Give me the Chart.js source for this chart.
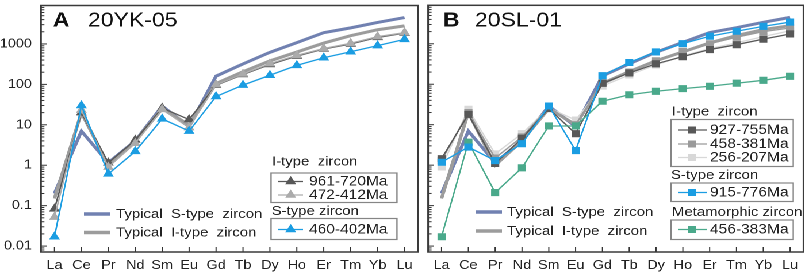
<!DOCTYPE html>
<html>
<head>
<meta charset="utf-8">
<script src="https://cdn.jsdelivr.net/npm/chart.js@4/dist/chart.umd.min.js"></script>
<style>
html,body{margin:0;padding:0;background:#fff;overflow:hidden;}
#stage{position:relative;width:704px;height:276px;transform:scaleX(1.15);transform-origin:0 0;}
#c1{position:absolute;left:0;top:0;}
#c2{position:absolute;left:367px;top:0;}
</style>
</head>
<body>
<div id="stage">
  <canvas id="c1" width="369" height="276"></canvas>
  <canvas id="c2" width="337" height="276"></canvas>
</div>
<script>
// ---------- data ----------
const elements = ['La','Ce','Pr','Nd','Sm','Eu','Gd','Tb','Dy','Ho','Er','Tm','Yb','Lu'];
const yTickValues = [0.01, 0.1, 1, 10, 100, 1000];

// reference curves (same in both panels)
const typicalS = [0.2, 7, 1.15, 4, 29, 9, 160, 320, 620, 1080, 1900, 2500, 3400, 4500];
const typicalI = [0.15, 20, 1.0, 4, 25, 10, 105, 205, 380, 630, 1050, 1600, 2250, 2800];

// panel A: 20YK-05
const yk961 = [0.083, 20, 1.15, 4.2, 26, 13.5, 95, 175, 310, 500, 750, 1000, 1450, 1850];
const yk472 = [0.052, 23, 0.9, 3.5, 24, 8.5, 98, 180, 325, 520, 770, 1040, 1520, 1900];
const yk460 = [0.017, 30, 0.61, 2.2, 14, 7, 50, 96, 168, 295, 455, 640, 910, 1300];

// panel B: 20SL-01
const sl927 = [1.45, 18, 1.1, 4.6, 25, 6, 105, 190, 320, 480, 720, 950, 1300, 1750];
const sl458 = [1.3, 20, 1.5, 5, 27, 10, 110, 200, 380, 650, 1000, 1450, 2000, 2450];
const sl256 = [0.9, 24, 1.9, 6, 26, 13, 90, 170, 300, 500, 760, 1050, 1500, 2100];
const sl915 = [1.18, 2.8, 1.3, 3.4, 29, 2.3, 163, 345, 630, 1010, 1540, 2040, 2700, 3440];
const sl456 = [0.017, 3.7, 0.21, 0.86, 9.3, 9.3, 38, 55, 67, 78, 89, 106, 125, 157];

// ---------- styling ----------
const FONT = '"Liberation Sans", Arial, Helvetica, sans-serif';
const COL = {
  S: '#7181b1', I: '#9c9c9c',
  dark: '#585858', light: '#ababab',
  blue: '#1b9de2', med: '#9a9a9a', pale: '#d8d8d8', teal: '#4aa98b'
};
const Y_MIN = 0.00714, Y_MAX = 8935;

Chart.defaults.font.family = FONT;
Chart.defaults.color = '#222';

function series(label, data, color, style, r) {
  return {
    label, data, borderColor: color, backgroundColor: color,
    borderWidth: 1.3, tension: 0,
    pointStyle: style, pointRadius: r, pointHoverRadius: r,
    pointBackgroundColor: color, pointBorderColor: color, pointBorderWidth: 1
  };
}
function typical(label, data, color) {
  return { label, data, borderColor: color, backgroundColor: color, borderWidth: 3, pointRadius: 0, tension: 0 };
}

function line(ctx, x1, y1, x2, y2) { ctx.beginPath(); ctx.moveTo(x1, y1); ctx.lineTo(x2, y2); ctx.stroke(); }

function marker(ctx, style, x, y, r, color) {
  ctx.fillStyle = color; ctx.strokeStyle = color; ctx.lineWidth = 1;
  ctx.beginPath();
  if (style === 'triangle') {
    ctx.moveTo(x, y - r);
    ctx.lineTo(x + 0.866 * r, y + 0.5 * r);
    ctx.lineTo(x - 0.866 * r, y + 0.5 * r);
    ctx.closePath();
  } else {
    const s = Math.SQRT1_2 * r;
    ctx.rect(x - s, y - s, 2 * s, 2 * s);
  }
  ctx.fill(); ctx.stroke();
}

function decoPlugin(cfg) {
  return {
    id: 'deco',
    afterDraw(chart) {
      const ctx = chart.ctx, a = chart.chartArea, ys = chart.scales.y, xs = chart.scales.x;
      ctx.save();
      // inward tick marks on the log axis
      ctx.strokeStyle = '#333'; ctx.lineWidth = 1;
      for (let e = -3; e <= 4; e++) {
        for (let m = 1; m <= 9; m++) {
          const v = m * Math.pow(10, e);
          if (v < ys.min || v > ys.max) continue;
          const py = ys.getPixelForValue(v);
          line(ctx, a.left, py, a.left + (m === 1 ? 5.2 : 3), py);
        }
      }
      // inward tick marks on category axis
      xs.ticks.forEach((t, i) => {
        const px = xs.getPixelForTick(i);
        line(ctx, px, a.bottom, px, a.bottom - 5);
      });
      // frame
      ctx.strokeStyle = '#3a3a3a'; ctx.lineWidth = 1.5;
      ctx.strokeRect(a.left, a.top, a.right - a.left, a.bottom - a.top);

      // panel title
      ctx.fillStyle = '#111'; ctx.textAlign = 'left'; ctx.textBaseline = 'alphabetic';
      ctx.font = 'bold 20px ' + FONT;
      ctx.fillText(cfg.title.letter, cfg.title.lx, 26.5);
      ctx.font = '20px ' + FONT;
      ctx.fillText(cfg.title.text, cfg.title.tx, 26.5);

      // legends
      ctx.textBaseline = 'middle';
      for (const t of cfg.typical) {
        ctx.strokeStyle = t.color; ctx.lineWidth = 3.5;
        line(ctx, t.x1, t.y, t.x2, t.y);
        ctx.fillStyle = '#222';
        ctx.font = '13px ' + FONT;
        ctx.fillText(t.text, t.tx, t.y + 0.5);
      }
      for (const g of cfg.groups) {
        ctx.fillStyle = '#222';
        ctx.font = '13px ' + FONT;
        ctx.fillText(g.header, g.hx, g.hy);
        ctx.strokeStyle = '#858585'; ctx.lineWidth = 1.2;
        ctx.strokeRect(g.box[0], g.box[1], g.box[2] - g.box[0], g.box[3] - g.box[1]);
        for (const e of g.entries) {
          ctx.strokeStyle = e.color; ctx.lineWidth = 1.3;
          line(ctx, g.l1, e.y, g.l2, e.y);
          marker(ctx, e.style, g.mx, e.y, e.style === 'triangle' ? 4.5 : 4.3, e.color);
          ctx.fillStyle = '#222';
          ctx.font = '13.5px ' + FONT;
          ctx.fillText(e.label, g.tx, e.y + 0.5);
        }
      }
      ctx.restore();
    }
  };
}

function makeOptions(isLeft, yWidth, padRight) {
  return {
    responsive: false, animation: false, devicePixelRatio: 2,
    layout: { padding: { top: 2, right: padRight, left: 0, bottom: 0 } },
    plugins: { legend: { display: false }, tooltip: { enabled: false } },
    scales: {
      x: {
        type: 'category', offset: true,
        grid: { display: false, drawTicks: false }, border: { display: false },
        ticks: { display: true, padding: 6, autoSkip: false, maxRotation: 0, font: { size: 12.5 }, color: '#222' },
        afterFit: s => { s.height = 24; s.paddingLeft = 0; s.paddingRight = 0; }
      },
      y: {
        type: 'logarithmic', min: Y_MIN, max: Y_MAX, bounds: 'data',
        grid: { display: false, drawTicks: false }, border: { display: false },
        afterBuildTicks: s => { s.ticks = yTickValues.map(v => ({ value: v })); },
        ticks: {
          display: isLeft, padding: 8, autoSkip: false, font: { size: 12.5 }, color: '#222',
          callback: v => v >= 1 ? String(Math.round(v)) : String(+v.toPrecision(1))
        },
        afterFit: s => { s.width = yWidth; s.paddingTop = 0; s.paddingBottom = 0; }
      }
    }
  };
}

// ---------- panel A ----------
new Chart(document.getElementById('c1'), {
  type: 'line',
  data: {
    labels: elements,
    datasets: [
      series('460-402Ma', yk460, COL.blue, 'triangle', 4.5),
      series('472-412Ma', yk472, COL.light, 'triangle', 4.5),
      series('961-720Ma', yk961, COL.dark, 'triangle', 4.5),
      typical('Typical I-type zircon', typicalI, COL.I),
      typical('Typical S-type zircon', typicalS, COL.S)
    ]
  },
  options: makeOptions(true, 35.65, 1.2),
  plugins: [decoPlugin({
    title: { letter: 'A', lx: 46, text: '20YK-05', tx: 76.5 },
    typical: [
      { text: 'Typical  S-type  zircon', color: COL.S, x1: 73, x2: 95.7, tx: 100.9, y: 214 },
      { text: 'Typical  I-type  zircon', color: COL.I, x1: 73, x2: 95.7, tx: 100.9, y: 232.5 }
    ],
    groups: [
      { header: 'I-type  zircon', hx: 236.5, hy: 162, box: [235.7, 173, 345.2, 202.5],
        l1: 241.7, l2: 263.5, mx: 252.8, tx: 268.7,
        entries: [
          { label: '961-720Ma', color: COL.dark, style: 'triangle', y: 181.5 },
          { label: '472-412Ma', color: COL.light, style: 'triangle', y: 195 }
        ] },
      { header: 'S-type zircon', hx: 236.2, hy: 211.5, box: [235.7, 218.5, 345.2, 239.5],
        l1: 241.7, l2: 263.5, mx: 252.8, tx: 268.7,
        entries: [
          { label: '460-402Ma', color: COL.blue, style: 'triangle', y: 229.5 }
        ] }
    ]
  })]
});

// ---------- panel B ----------
new Chart(document.getElementById('c2'), {
  type: 'line',
  data: {
    labels: elements,
    datasets: [
      series('915-776Ma', sl915, COL.blue, 'rect', 4.3),
      series('456-383Ma', sl456, COL.teal, 'rect', 4.3),
      series('927-755Ma', sl927, COL.dark, 'rect', 4.3),
      series('458-381Ma', sl458, COL.med, 'rect', 4.3),
      series('256-207Ma', sl256, COL.pale, 'rect', 4.3),
      typical('Typical I-type zircon', typicalI, COL.I),
      typical('Typical S-type zircon', typicalS, COL.S)
    ]
  },
  options: makeOptions(false, 1.7, 3.1),
  plugins: [decoPlugin({
    title: { letter: 'B', lx: 18.2, text: '20SL-01', tx: 46 },
    typical: [
      { text: 'Typical  S-type  zircon', color: COL.S, x1: 46.9, x2: 69.5, tx: 73.9, y: 212 },
      { text: 'Typical  I-type  zircon', color: COL.I, x1: 46.9, x2: 69.5, tx: 73.9, y: 231 }
    ],
    groups: [
      { header: 'I-type  zircon', hx: 217.3, hy: 112, box: [216.5, 119.5, 322.8, 166.5],
        l1: 222.6, l2: 247.8, mx: 234.7, tx: 250.4,
        entries: [
          { label: '927-755Ma', color: COL.dark, style: 'rect', y: 130 },
          { label: '458-381Ma', color: COL.med, style: 'rect', y: 144 },
          { label: '256-207Ma', color: COL.pale, style: 'rect', y: 157.5 }
        ] },
      { header: 'S-type zircon', hx: 216.5, hy: 175.5, box: [216.5, 183, 322.8, 201.5],
        l1: 222.6, l2: 247.8, mx: 234.7, tx: 250.4,
        entries: [
          { label: '915-776Ma', color: COL.blue, style: 'rect', y: 192.5 }
        ] },
      { header: 'Metamorphic zircon', hx: 217.3, hy: 212.5, box: [216.5, 220, 322.8, 239.5],
        l1: 222.6, l2: 247.8, mx: 234.7, tx: 250.4,
        entries: [
          { label: '456-383Ma', color: COL.teal, style: 'rect', y: 229.5 }
        ] }
    ]
  })]
});
</script>
</body>
</html>
